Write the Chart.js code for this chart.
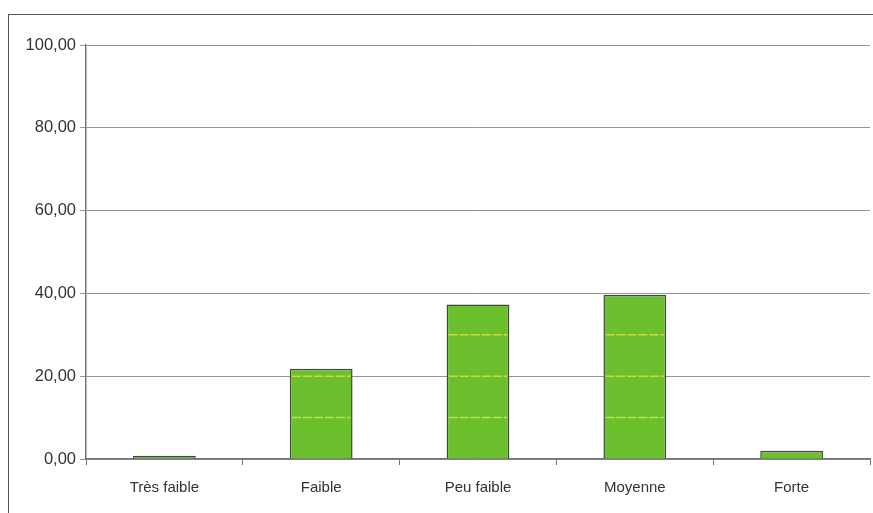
<!DOCTYPE html>
<html>
<head>
<meta charset="utf-8">
<script src="https://cdn.jsdelivr.net/npm/chart.js@4"></script>
<style>
  html, body { margin: 0; padding: 0; background: #fff; }
  #wrap { position: relative; width: 873px; height: 513px; }
  #frame { position: absolute; left: 8px; top: 14px; width: 880px; height: 520px;
           border-left: 1.5px solid #555; border-top: 1.5px solid #555; }
  canvas { position: absolute; left: 0; top: 0; }
</style>
</head>
<body>
<div id="wrap">
  <div id="frame"></div>
  <canvas id="chart" width="873" height="513"></canvas>
</div>
<script>
const categories = ["Très faible", "Faible", "Peu faible", "Moyenne", "Forte"];
const values = [0.8, 21.8, 37.3, 39.7, 2.0];
const stripeLevels = [10, 20, 30];

function fmt(v) { return v.toFixed(2).replace('.', ','); }

// faint yellow dashed lines across bars, like in the scan
const stripes = {
  id: 'stripes',
  afterDatasetsDraw(chart) {
    const ctx = chart.ctx;
    const y = chart.scales.y;
    const meta = chart.getDatasetMeta(0);
    ctx.save();
    ctx.strokeStyle = 'rgba(215,225,70,0.85)';
    ctx.lineWidth = 1.5;
    ctx.setLineDash([9, 2]);
    meta.data.forEach((bar, i) => {
      const half = bar.width / 2;
      stripeLevels.forEach(l => {
        if (values[i] > l + 1) {
          const py = y.getPixelForValue(l);
          ctx.beginPath();
          ctx.moveTo(bar.x - half + 2, py);
          ctx.lineTo(bar.x + half - 2, py);
          ctx.stroke();
        }
      });
    });
    ctx.restore();
  }
};

new Chart(document.getElementById('chart'), {
  type: 'bar',
  data: {
    labels: categories,
    datasets: [{
      data: values,
      backgroundColor: '#6cc02e',
      borderColor: '#3d4a35',
      borderWidth: 1.5,
      barPercentage: 0.8,
      categoryPercentage: 0.5
    }]
  },
  options: {
    responsive: false,
    animation: false,
    layout: { padding: { top: 45, right: 3, left: 0, bottom: 0 } },
    plugins: { legend: { display: false }, tooltip: { enabled: false } },
    scales: {
      y: {
        min: 0, max: 100,
        ticks: { stepSize: 20, callback: v => fmt(v), color: '#333',
                 font: { family: 'Liberation Sans', size: 16.5 }, padding: 4 },
        grid: { color: '#8c979c', lineWidth: 1, tickLength: 6 },
        border: { color: '#6c777c', width: 1.5 },
        afterFit: s => { s.width = 86; }
      },
      x: {
        ticks: { color: '#333', font: { family: 'Liberation Sans', size: 15 }, padding: 14 },
        grid: { offset: true, drawOnChartArea: false, color: '#6c777c', tickLength: 6 },
        border: { color: '#6c777c', width: 1.5 },
        afterFit: s => { s.height = 54; }
      }
    }
  },
  plugins: [stripes]
});
</script>
</body>
</html>
